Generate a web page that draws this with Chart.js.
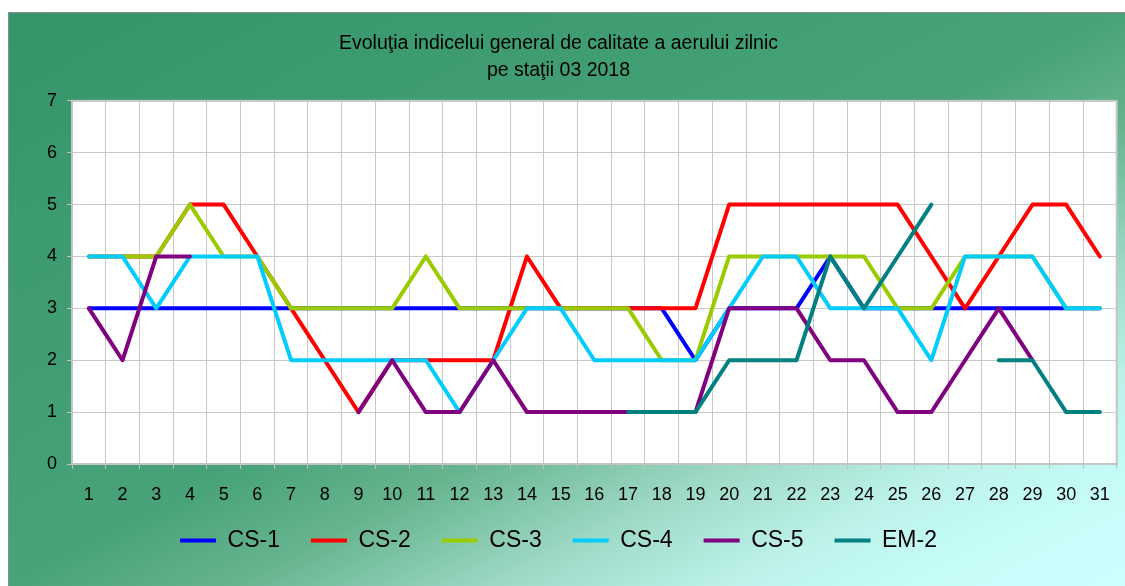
<!DOCTYPE html>
<html>
<head>
<meta charset="utf-8">
<script src="https://cdn.jsdelivr.net/npm/chart.js@4.4.1/dist/chart.umd.min.js"></script>
<style>
  html, body { margin: 0; padding: 0; background: #ffffff; }
  #wrap { position: relative; width: 1125px; height: 586px; }
</style>
</head>
<body>
<div id="wrap"><canvas id="chart"></canvas></div>
<script>
// zilele lunii (categorii)
const days = ['1','2','3','4','5','6','7','8','9','10','11','12','13','14','15','16',
              '17','18','19','20','21','22','23','24','25','26','27','28','29','30','31'];

// indicele general zilnic pe statii
const cs1 = [3,3,3,3,3,3,3,3,3,3,3,3,3,3,3,3,3,3,2,3,3,3,4,3,3,3,3,3,3,3,3];
const cs2 = [4,4,4,5,5,4,3,2,1,2,2,2,2,4,3,3,3,3,3,5,5,5,5,5,5,4,3,4,5,5,4];
const cs3 = [4,4,4,5,4,4,3,3,3,3,4,3,3,3,3,3,3,2,2,4,4,4,4,4,3,3,4,4,4,3,3];
const cs4 = [4,4,3,4,4,4,2,2,2,2,2,1,2,3,3,2,2,2,2,3,4,4,3,3,3,2,4,4,4,3,3];
const cs5 = [3,2,4,4,null,null,null,null,1,2,1,1,2,1,1,1,1,1,1,3,3,3,2,2,1,1,2,3,2,null,null];
const em2 = [null,null,null,null,null,null,null,null,null,null,null,null,null,null,null,null,
             1,1,1,2,2,2,4,3,4,5,null,2,2,1,1];

const yTicks = [0,1,2,3,4,5,6,7];

const FONT = "Arial, 'Liberation Sans', sans-serif";

// fundalul cu gradient + zona alba a graficului
const bgPlugin = {
  id: 'bg',
  beforeDraw(chart) {
    const ctx = chart.ctx;
    const W = chart.width, H = chart.height;
    ctx.save();
    ctx.fillStyle = '#ffffff';
    ctx.fillRect(0, 0, W, H);
    const x0 = 8, y0 = 12;
    const g = ctx.createLinearGradient(x0, y0, x0 + 467, y0 + 908);
    g.addColorStop(0, '#349569');
    g.addColorStop(0.5, '#48a378');
    g.addColorStop(0.6, '#66b48e');
    g.addColorStop(0.72, '#9ed9c6');
    g.addColorStop(0.82, '#bcf2ea');
    g.addColorStop(0.9, '#c6fcf8');
    g.addColorStop(1, '#ccffff');
    ctx.fillStyle = g;
    ctx.fillRect(x0, y0, W - x0, H - y0);
    ctx.strokeStyle = '#8c8c8c';
    ctx.lineWidth = 1;
    ctx.beginPath();
    ctx.moveTo(x0 + 0.5, H);
    ctx.lineTo(x0 + 0.5, y0 + 0.5);
    ctx.lineTo(W, y0 + 0.5);
    ctx.stroke();
    const a = chart.chartArea;
    ctx.fillStyle = '#ffffff';
    ctx.fillRect(a.left, a.top, a.right - a.left, a.bottom - a.top);
    ctx.restore();
  },
  beforeDatasetsDraw(chart) {
    const ctx = chart.ctx, a = chart.chartArea;
    ctx.save();
    ctx.strokeStyle = '#c4c4c4';
    ctx.lineWidth = 2;
    ctx.strokeRect(a.left, a.top, a.right - a.left, a.bottom - a.top);
    ctx.restore();
  }
};

function serie(label, data, color, order) {
  return {
    label: label,
    data: data,
    borderColor: color,
    backgroundColor: color,
    borderWidth: 4,
    pointRadius: 0,
    pointHoverRadius: 0,
    tension: 0,
    spanGaps: false,
    borderJoinStyle: 'round',
    borderCapStyle: 'round',
    order: order
  };
}

new Chart(document.getElementById('chart'), {
  type: 'line',
  data: {
    labels: days,
    datasets: [
      serie('CS-1', cs1, '#0000ff', 6),
      serie('CS-2', cs2, '#ff0000', 5),
      serie('CS-3', cs3, '#99cc00', 4),
      serie('CS-4', cs4, '#00ccff', 3),
      serie('CS-5', cs5, '#800080', 2),
      serie('EM-2', em2, '#008080', 1)
    ]
  },
  options: {
    responsive: true,
    maintainAspectRatio: false,
    animation: false,
    layout: { padding: { left: 0, right: 8, top: 0, bottom: 24 } },
    plugins: {
      title: {
        display: true,
        text: ['Evoluţia indicelui general de calitate a aerului zilnic', 'pe staţii 03 2018'],
        color: '#000000',
        font: { family: FONT, size: 19.5, weight: 'normal', lineHeight: 1.38 },
        padding: { top: 30, bottom: 17 }
      },
      legend: {
        position: 'bottom',
        labels: {
          color: '#000000',
          font: { family: FONT, size: 23 },
          boxWidth: 36,
          boxHeight: 4,
          padding: 31,
          sort: (a, b) => a.datasetIndex - b.datasetIndex,
          generateLabels(chart) {
            const items = Chart.defaults.plugins.legend.labels.generateLabels(chart);
            items.forEach(it => { it.lineWidth = 0; });
            return items;
          }
        }
      },
      tooltip: { enabled: false }
    },
    scales: {
      x: {
        offset: true,
        grid: { offset: true, color: '#c8c8c8', lineWidth: 1, tickLength: 5, tickColor: '#c0c0c0' },
        border: { display: false },
        ticks: { color: '#000000', font: { family: FONT, size: 18 }, padding: 15, maxRotation: 0, autoSkip: false },
        afterFit(scale) {
          scale.height = 34;
          // etichetele coboara sub caseta axei, deci fara decupare
          scale._computeLabelArea = () => undefined;
        }
      },
      y: {
        min: 0,
        max: 7,
        afterBuildTicks(scale) { scale.ticks = yTicks.map(v => ({ value: v })); },
        grid: { color: '#c8c8c8', lineWidth: 1, tickLength: 5, tickColor: '#c0c0c0' },
        border: { display: false },
        ticks: { color: '#000000', font: { family: FONT, size: 18 }, padding: 10 },
        afterFit(scale) { scale.width = 72; }
      }
    }
  },
  plugins: [bgPlugin]
});
</script>
</body>
</html>
